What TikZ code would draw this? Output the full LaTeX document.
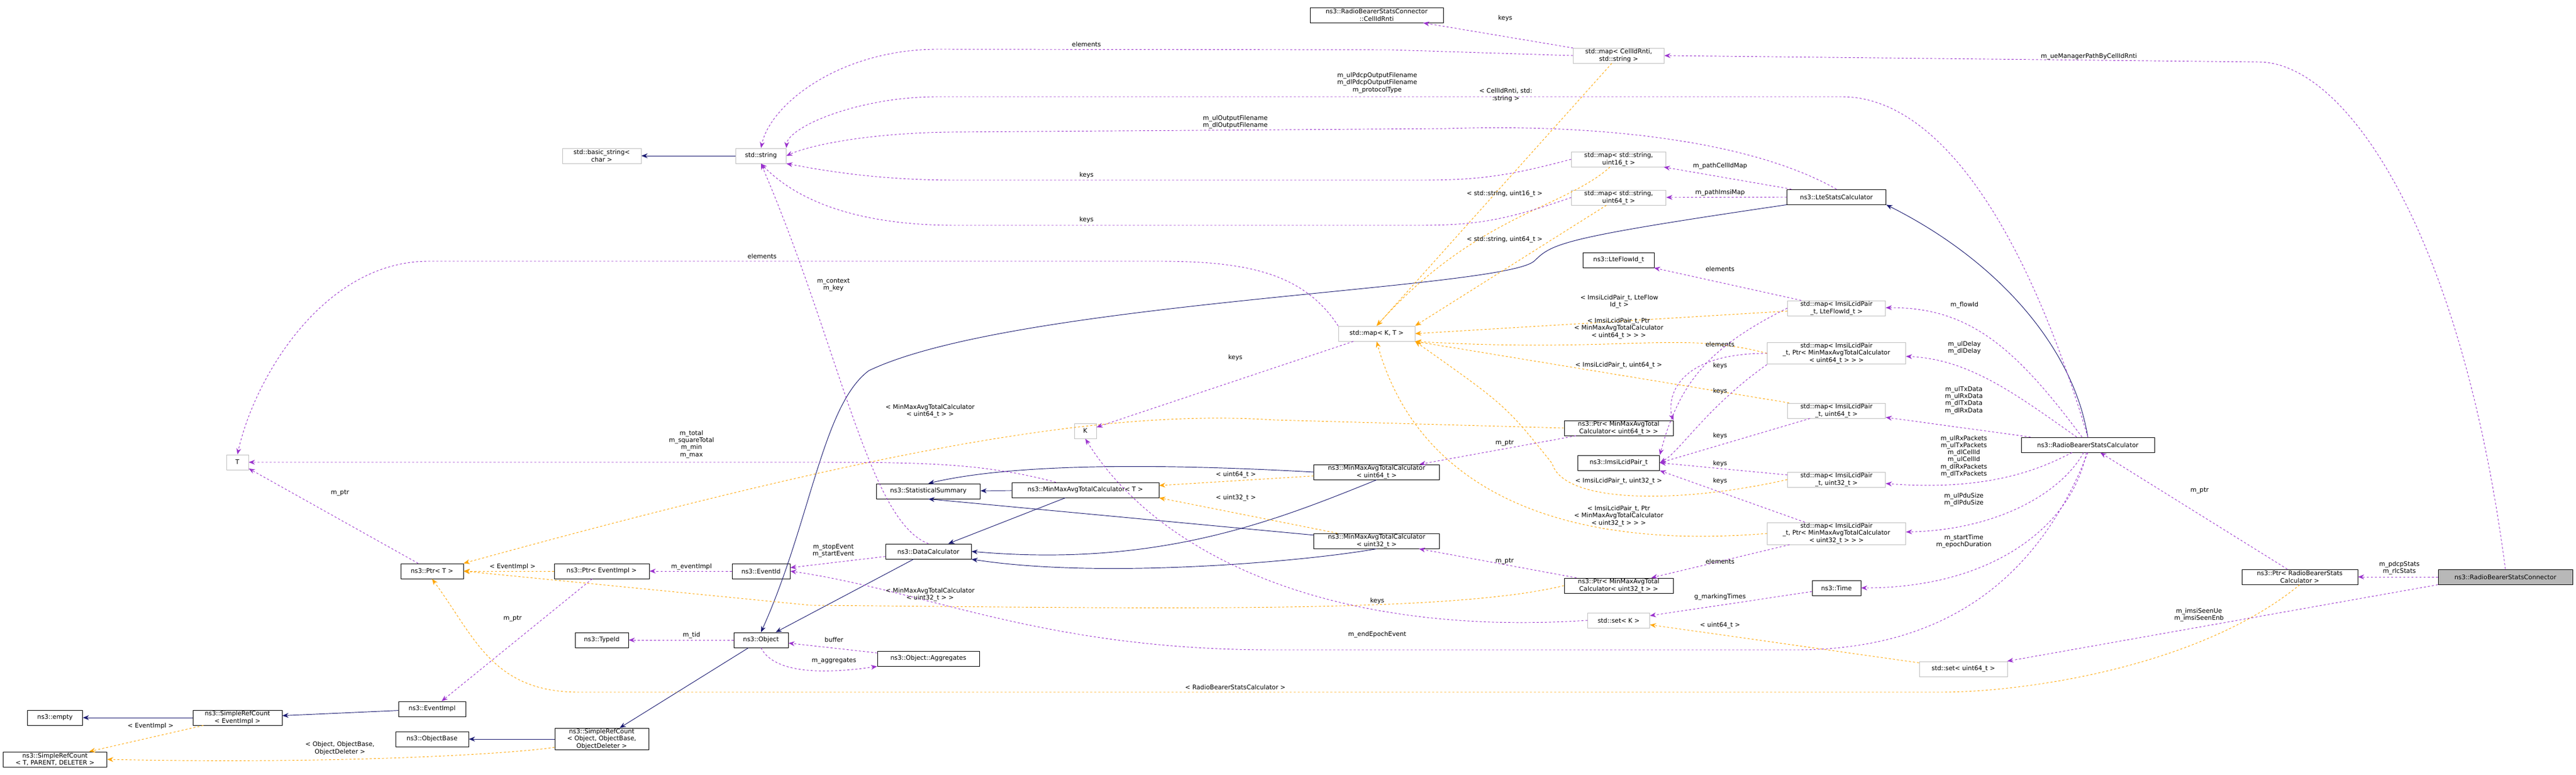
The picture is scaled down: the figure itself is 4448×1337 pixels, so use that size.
\documentclass[tikz,border=0pt]{standalone}
\usepackage{fontspec}
\setmainfont{DejaVu Sans}
\usetikzlibrary{arrows.meta}

\definecolor{inh}{HTML}{191970}
\definecolor{use}{HTML}{9A32CD}
\definecolor{tpl}{HTML}{FFA500}
\definecolor{extgray}{HTML}{BFBFBF}

\tikzset{
  cls/.style={draw=black, line width=0.8pt, fill=white, align=center, inner sep=1pt, minimum height=0.78cm, font=\fontsize{9.2}{10.6}\selectfont},
  ext/.style={cls, draw=extgray},
  main/.style={cls, fill=black!28},
  isa/.style={draw=inh, line width=0.8pt, -{Stealth[length=9pt,width=7pt]}},
  uses/.style={draw=use, line width=0.8pt, dashed, -{Stealth[length=9pt,width=7pt]}},
  tmpl/.style={draw=tpl, line width=0.8pt, dashed, -{Stealth[length=9pt,width=7pt]}},
  lbl/.style={align=center, inner sep=0pt, font=\fontsize{9.2}{10.4}\selectfont}
}

\begin{document}
\begin{tikzpicture}[x=0.03cm, y=-0.03cm]
  \useasboundingbox (0,0) rectangle (4448,1337);

  % classes
  \node[main, minimum width=6.96cm] (conn) at (4326,996) {ns3::RadioBearerStatsConnector};
  \node[cls, minimum width=6.0cm] (prbsc) at (3971,996) {ns3::Ptr< RadioBearerStats\\Calculator >};
  \node[cls, minimum width=6.9cm] (rbsc) at (3605,768) {ns3::RadioBearerStatsCalculator};
  \node[cls, minimum width=5.13cm] (lte) at (3171,340) {ns3::LteStatsCalculator};
  \node[cls, minimum width=6.9cm] (cellid) at (2377,26) {ns3::RadioBearerStatsConnector\\::CellIdRnti};
  \node[ext, minimum width=4.7cm] (mcell) at (2795,96) {std::map< CellIdRnti,\\std::string >};
  \node[ext, minimum width=4.9cm] (mstr16) at (2795,275) {std::map< std::string,\\uint16\_t >};
  \node[ext, minimum width=4.9cm] (mstr64) at (2795,341) {std::map< std::string,\\uint64\_t >};
  \node[cls, minimum width=3.7cm] (flowid) at (2795,449) {ns3::LteFlowId\_t};
  \node[ext, minimum width=3.96cm] (mkt) at (2377,576) {std::map< K, T >};
  \node[ext, minimum width=5.07cm] (mflow) at (3171,532) {std::map< ImsiLcidPair\\\_t, LteFlowId\_t >};
  \node[ext, minimum width=7.17cm] (mptr64) at (3171,610) {std::map< ImsiLcidPair\\\_t, Ptr< MinMaxAvgTotalCalculator\\< uint64\_t > > >};
  \node[ext, minimum width=5.07cm] (mu64) at (3171,709) {std::map< ImsiLcidPair\\\_t, uint64\_t >};
  \node[cls, minimum width=5.64cm] (ptr64) at (2795,739) {ns3::Ptr< MinMaxAvgTotal\\Calculator< uint64\_t > >};
  \node[cls, minimum width=4.23cm] (imsi) at (2795,799) {ns3::ImsiLcidPair\_t};
  \node[ext, minimum width=5.07cm] (mu32) at (3171,828) {std::map< ImsiLcidPair\\\_t, uint32\_t >};
  \node[cls, minimum width=6.5cm] (mm64) at (2377,815) {ns3::MinMaxAvgTotalCalculator\\< uint64\_t >};
  \node[cls, minimum width=6.5cm] (mm32) at (2377,934) {ns3::MinMaxAvgTotalCalculator\\< uint32\_t >};
  \node[ext, minimum width=7.17cm] (mptr32) at (3171,921) {std::map< ImsiLcidPair\\\_t, Ptr< MinMaxAvgTotalCalculator\\< uint32\_t > > >};
  \node[cls, minimum width=5.64cm] (ptr32) at (2795,1011) {ns3::Ptr< MinMaxAvgTotal\\Calculator< uint32\_t > >};
  \node[cls, minimum width=2.52cm] (time) at (3171,1015) {ns3::Time};
  \node[ext, minimum width=3.2cm] (setk) at (2795,1071) {std::set< K >};
  \node[ext, minimum width=4.56cm] (setu64) at (3390,1155) {std::set< uint64\_t >};
  \node[ext, minimum width=2.6cm] (str) at (1314,269) {std::string};
  \node[ext, minimum width=4.08cm] (bstr) at (1039,269) {std::basic\_string<\\char >};
  \node[ext, minimum width=1.14cm] (kk) at (1874,744) {K};
  \node[ext, minimum width=1.14cm] (tt) at (410,798) {T};
  \node[cls, minimum width=5.37cm] (stat) at (1603,848) {ns3::StatisticalSummary};
  \node[cls, minimum width=7.62cm] (mmt) at (1874,846) {ns3::MinMaxAvgTotalCalculator< T >};
  \node[cls, minimum width=4.44cm] (datac) at (1603,952) {ns3::DataCalculator};
  \node[cls, minimum width=3.0cm] (evid) at (1314,986) {ns3::EventId};
  \node[cls, minimum width=4.92cm] (pevi) at (1039,986) {ns3::Ptr< EventImpl >};
  \node[cls, minimum width=3.24cm] (ptrt) at (746,986) {ns3::Ptr< T >};
  \node[cls, minimum width=2.82cm] (obj) at (1314,1105) {ns3::Object};
  \node[cls, minimum width=2.76cm] (tid) at (1039,1105) {ns3::TypeId};
  \node[cls, minimum width=5.28cm] (aggr) at (1603,1137) {ns3::Object::Aggregates};
  \node[cls, minimum width=3.48cm] (evimpl) at (746,1224) {ns3::EventImpl};
  \node[cls, minimum width=4.62cm] (srcev) at (410,1239) {ns3::SimpleRefCount\\< EventImpl >};
  \node[cls, minimum width=2.85cm] (empty) at (95,1239) {ns3::empty};
  \node[cls, minimum width=3.78cm] (objb) at (746,1276) {ns3::ObjectBase};
  \node[cls, minimum width=4.86cm] (srcobj) at (1039,1276) {ns3::SimpleRefCount\\< Object, ObjectBase,\\ObjectDeleter >};
  \node[cls, minimum width=5.37cm] (srct) at (95,1311) {ns3::SimpleRefCount\\< T, PARENT, DELETER >};

  % inheritance
  \draw[isa] (str) -- (bstr);
  \draw[isa] (srcev) -- (empty);
  \draw[isa] (evimpl) -- (srcev);
  \draw[isa] (srcobj) -- (objb);
  \draw[isa] (obj) -- (srcobj);
  \draw[isa] (datac) -- (obj);
  \draw[isa] (lte.south west) .. controls (2700,410) and (2680,420) .. (2650,450)
    .. controls (2600,500) and (1750,520) .. (1500,640) .. controls (1420,700) and (1400,900) .. (obj.north);
  \draw[isa] (rbsc.north) .. controls (3580,600) and (3450,450) .. (lte.south east);
  \draw[isa] (mmt) -- (stat);
  \draw[isa] (mmt) -- (datac);
  \draw[isa] (mm64.west) .. controls (2000,800) and (1750,800) .. (stat.north);
  \draw[isa] (mm64.south) .. controls (2200,900) and (2000,980) .. (datac.east);
  \draw[isa] (mm32) -- (stat.south);
  \draw[isa] (mm32.south) .. controls (2250,970) and (1900,1000) .. (datac.south east);

  % template instances
  \draw[tmpl] (srcev) -- (srct);
  \draw[tmpl] (srcobj) .. controls (900,1300) and (600,1320) .. (srct.east);
  \draw[tmpl] (pevi) -- (ptrt);
  \draw[tmpl] (ptr64.west) -- (2200,725) .. controls (1900,705) and (1500,780) .. (ptrt.north east);
  \draw[tmpl] (ptr32.west) .. controls (2500,1060) and (2000,1050) .. (1400,1045) -- (ptrt.east);
  \draw[tmpl] (prbsc.south) .. controls (3800,1150) and (3500,1195) .. (3350,1195) -- (1000,1195)
    .. controls (850,1195) and (820,1100) .. (ptrt.south);
  \draw[tmpl] (mm64) -- (mmt);
  \draw[tmpl] (mm32) -- (mmt.south east);
  \draw[tmpl] (mcell) -- (mkt.north);
  \draw[tmpl] (mstr16) .. controls (2700,360) and (2550,370) .. (mkt.north);
  \draw[tmpl] (mstr64) -- (mkt.north east);
  \draw[tmpl] (mflow) -- (mkt.east);
  \draw[tmpl] (mptr64.west) .. controls (2900,570) and (2800,610) .. (mkt.south east);
  \draw[tmpl] (mu64) -- (mkt.south east);
  \draw[tmpl] (mu32.west) .. controls (2900,870) and (2700,870) .. (2680,800) .. controls (2600,700) .. (mkt.south east);
  \draw[tmpl] (mptr32.west) .. controls (2700,950) and (2450,850) .. (mkt.south);
  \draw[tmpl] (setu64) -- (setk);

  % members
  \draw[uses] (mkt.north west) .. controls (2250,470) and (2150,451) .. (2000,451) -- (740,451)
    .. controls (560,451) and (440,650) .. (tt.north);
  \draw[uses] (mkt) -- (kk);
  \draw[uses] (setk.west) .. controls (2300,1100) and (2000,960) .. (kk.south);
  \draw[uses] (mmt) .. controls (1700,800) and (1600,798) .. (1400,798) -- (tt);
  \draw[uses] (ptrt) -- (tt);
  \draw[uses] (pevi) -- (evimpl);
  \draw[uses] (evid) -- (pevi);
  \draw[uses] (obj) -- (tid);
  \draw[uses] (aggr) -- (obj);
  \draw[uses] (obj.south) .. controls (1340,1170) and (1450,1160) .. (aggr.south west);
  \draw[uses] (datac.north) .. controls (1500,900) and (1450,600) .. (str.south);
  \draw[uses] (datac) -- (evid);
  \draw[uses] (rbsc.south) .. controls (3500,1050) and (3300,1122) .. (3100,1122) -- (2200,1122)
    .. controls (1800,1122) and (1600,1020) .. (evid.east);
  \draw[uses] (mcell.west) -- (2400,86) -- (1620,85) .. controls (1450,85) and (1330,180) .. (str.north);
  \draw[uses] (mcell) -- (cellid);
  \draw[uses] (rbsc.north) .. controls (3500,400) and (3350,167) .. (3180,167) -- (1620,167)
    .. controls (1480,167) and (1360,220) .. (str.north east);
  \draw[uses] (lte.north) .. controls (3000,230) and (2700,215) .. (2500,222) -- (1640,228)
    .. controls (1500,230) and (1400,250) .. (str.east);
  \draw[uses] (mstr16.west) .. controls (2600,305) and (2550,311) .. (2450,311) -- (1650,311)
    .. controls (1500,311) and (1400,290) .. (str.south east);
  \draw[uses] (mstr64.west) .. controls (2600,380) and (2550,389) .. (2450,389) -- (1650,389)
    .. controls (1450,389) and (1360,330) .. (str.south);
  \draw[uses] (lte) -- (mstr16);
  \draw[uses] (lte) -- (mstr64);
  \draw[uses] (mflow) -- (flowid);
  \draw[uses] (mflow.west) .. controls (2950,600) and (2900,660) .. (imsi.north east);
  \draw[uses] (mptr64.west) .. controls (2880,610) and (2880,700) .. (ptr64.north east);
  \draw[uses] (mptr64.south west) .. controls (2950,700) and (2900,780) .. (imsi.east);
  \draw[uses] (mu64) -- (imsi.east);
  \draw[uses] (mu32) -- (imsi.east);
  \draw[uses] (mptr32) -- (imsi.south east);
  \draw[uses] (mptr32) -- (ptr32);
  \draw[uses] (ptr64) -- (mm64);
  \draw[uses] (ptr32) -- (mm32);
  \draw[uses] (rbsc) .. controls (3480,600) and (3400,530) .. (mflow);
  \draw[uses] (rbsc) .. controls (3480,680) and (3400,620) .. (mptr64);
  \draw[uses] (rbsc) -- (mu64);
  \draw[uses] (rbsc) .. controls (3540,800) and (3450,850) .. (mu32);
  \draw[uses] (rbsc) .. controls (3560,850) and (3450,915) .. (mptr32);
  \draw[uses] (rbsc) .. controls (3580,900) and (3450,1015) .. (time);
  \draw[uses] (time) -- (setk);
  \draw[uses] (conn) -- (prbsc);
  \draw[uses] (conn.south west) -- (setu64);
  \draw[uses] (conn.north) .. controls (4250,400) and (4050,107) .. (3900,107) -- (mcell.east);
  \draw[uses] (prbsc) -- (rbsc);

  % edge labels
  \node[lbl] (l1) at (1194,767) {m\_total\\m\_squareTotal\\m\_min\\m\_max};
  \node[lbl] (l2) at (587,851) {m\_ptr};
  \node[lbl] (l3) at (885,979) {< EventImpl >};
  \node[lbl] (l4) at (1194,979) {m\_eventImpl};
  \node[lbl] (l5) at (885,1068) {m\_ptr};
  \node[lbl] (l6) at (1194,1097) {m\_tid};
  \node[lbl] (l7) at (260,1254) {< EventImpl >};
  \node[lbl] (l8) at (587,1292) {< Object, ObjectBase,\\ObjectDeleter >};
  \node[lbl] (l9) at (1316,442) {elements};
  \node[lbl] (l10) at (1876,76) {elements};
  \node[lbl] (l11) at (2378,143) {m\_ulPdcpOutputFilename\\m\_dlPdcpOutputFilename\\m\_protocolType};
  \node[lbl] (l12) at (2133,211) {m\_ulOutputFilename\\m\_dlOutputFilename};
  \node[lbl] (l13) at (1876,303) {keys};
  \node[lbl] (l14) at (1876,380) {keys};
  \node[lbl] (l15) at (1439,492) {m\_context\\m\_key};
  \node[lbl] (l16) at (2133,618) {keys};
  \node[lbl] (l17) at (1606,710) {< MinMaxAvgTotalCalculator\\< uint64\_t > >};
  \node[lbl] (l18) at (1439,951) {m\_stopEvent\\m\_startEvent};
  \node[lbl] (l19) at (1606,1027) {< MinMaxAvgTotalCalculator\\< uint32\_t > >};
  \node[lbl] (l20) at (1440,1104) {buffer};
  \node[lbl] (l21) at (1440,1141) {m\_aggregates};
  \node[lbl] (l22) at (2133,1186) {< RadioBearerStatsCalculator >};
  \node[lbl] (l23) at (2378,1096) {m\_endEpochEvent};
  \node[lbl] (l24) at (2599,32) {keys};
  \node[lbl] (l25) at (2600,164) {< CellIdRnti, std:\\:string >};
  \node[lbl] (l26) at (2598,335) {< std::string, uint16\_t >};
  \node[lbl] (l27) at (2598,414) {< std::string, uint64\_t >};
  \node[lbl] (l28) at (2970,287) {m\_pathCellIdMap};
  \node[lbl] (l29) at (2970,333) {m\_pathImsiMap};
  \node[lbl] (l30) at (2970,464) {elements};
  \node[lbl] (l31) at (2796,521) {< ImsiLcidPair\_t, LteFlow\\Id\_t >};
  \node[lbl] (l32) at (2795,567) {< ImsiLcidPair\_t, Ptr\\< MinMaxAvgTotalCalculator\\< uint64\_t > > >};
  \node[lbl] (l33) at (2970,594) {elements};
  \node[lbl] (l34) at (2970,632) {keys};
  \node[lbl] (l35) at (2795,631) {< ImsiLcidPair\_t, uint64\_t >};
  \node[lbl] (l36) at (2970,676) {keys};
  \node[lbl] (l37) at (2598,765) {m\_ptr};
  \node[lbl] (l38) at (2134,820) {< uint64\_t >};
  \node[lbl] (l39) at (2134,860) {< uint32\_t >};
  \node[lbl] (l40) at (2970,753) {keys};
  \node[lbl] (l41) at (2970,801) {keys};
  \node[lbl] (l42) at (2970,831) {keys};
  \node[lbl] (l43) at (2795,831) {< ImsiLcidPair\_t, uint32\_t >};
  \node[lbl] (l44) at (2795,891) {< ImsiLcidPair\_t, Ptr\\< MinMaxAvgTotalCalculator\\< uint32\_t > > >};
  \node[lbl] (l45) at (2598,969) {m\_ptr};
  \node[lbl] (l46) at (2970,969) {elements};
  \node[lbl] (l47) at (2378,1038) {keys};
  \node[lbl] (l48) at (2970,1031) {g\_markingTimes};
  \node[lbl] (l49) at (2970,1080) {< uint64\_t >};
  \node[lbl] (l50) at (3607,98) {m\_ueManagerPathByCellIdRnti};
  \node[lbl] (l51) at (3392,527) {m\_flowId};
  \node[lbl] (l52) at (3392,601) {m\_ulDelay\\m\_dlDelay};
  \node[lbl] (l53) at (3391,691) {m\_ulTxData\\m\_ulRxData\\m\_dlTxData\\m\_dlRxData};
  \node[lbl] (l54) at (3391,788) {m\_ulRxPackets\\m\_ulTxPackets\\m\_dlCellId\\m\_ulCellId\\m\_dlRxPackets\\m\_dlTxPackets};
  \node[lbl] (l55) at (3391,863) {m\_ulPduSize\\m\_dlPduSize};
  \node[lbl] (l56) at (3391,935) {m\_startTime\\m\_epochDuration};
  \node[lbl] (l57) at (3798,847) {m\_ptr};
  \node[lbl] (l58) at (4143,981) {m\_pdcpStats\\m\_rlcStats};
  \node[lbl] (l59) at (3797,1062) {m\_imsiSeenUe\\m\_imsiSeenEnb};

\end{tikzpicture}
\end{document}
